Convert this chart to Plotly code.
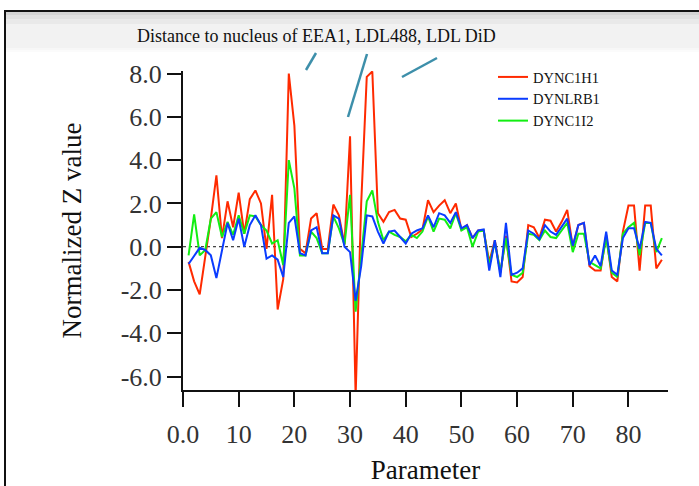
import plotly.graph_objects as go

# ---------------- data ----------------
params = list(range(1, 87))

dync1h1 = [-0.7, -1.6, -2.2, -0.5, 1.3, 3.3, 0.4, 2.1, 0.9, 2.5,
           0.6, 2.2, 2.6, 2.0, -0.1, 2.4, -2.9, -1.5, 8.0, 5.6,
           -0.1, -0.3, 1.3, 1.55, -0.1, -0.1, 1.95, 1.45, 0.1, 5.1,
           -6.9, 2.0, 7.85, 8.1, 1.55, 1.15, 1.6, 1.7, 1.3, 1.25,
           0.45, 0.6, 0.8, 2.15, 1.6, 1.9, 2.15, 1.55, 2.0, 0.8,
           1.0, 0.4, 0.75, 0.75, -0.7, 0.3, -1.2, 0.5, -1.6, -1.65,
           -1.4, 1.0, 0.9, 0.4, 1.25, 1.2, 0.7, 1.15, 1.7, 0.0,
           1.0, 1.1, -0.9, -1.1, -1.1, 0.55, -1.4, -1.6, 0.7, 1.9,
           1.9, -1.1, 1.9, 1.9, -1.0, -0.6]

dynlrb1 = [-0.8, -0.4, -0.05, -0.15, -0.4, -1.45, -0.1, 1.1, 0.3, 1.3,
           0.0, 1.0, 1.45, 1.0, -0.55, -0.4, -0.6, -1.4, 1.1, 1.4,
           -0.3, -0.4, 0.75, 0.9, -0.3, -0.3, 1.45, 1.3, 0.0, -0.25,
           -2.5, -0.9, 1.45, 1.4, 0.7, 0.15, 0.7, 0.75, 0.45, 0.15,
           0.6, 0.75, 0.85, 1.45, 0.9, 1.55, 1.45, 1.1, 1.6, 0.85,
           1.0, 0.4, 0.75, 0.8, -1.1, 0.3, -1.4, 1.1, -1.3, -1.2,
           -1.0, 0.75, 0.6, 0.35, 1.0, 0.7, 0.55, 0.9, 1.3, 0.05,
           1.0, 1.1, -0.85, -0.4, -0.9, 0.7, -1.1, -1.3, 0.4, 0.85,
           0.85, -0.1, 1.15, 1.1, -0.1, -0.4]

dync1i2 = [-0.4, 1.5, -0.4, -0.15, 1.3, 1.6, 0.45, 1.15, 0.55, 1.45,
           0.6, 1.45, 1.4, 1.0, 0.75, 0.15, 0.3, -0.85, 4.0, 2.7,
           -0.4, -0.4, 0.7, 0.4, -0.3, -0.3, 1.4, 0.85, 0.1, 2.4,
           -3.0, -0.55, 2.1, 2.6, 1.15, 0.3, 0.7, 0.55, 0.45, 0.25,
           0.55, 0.4, 0.7, 1.4, 0.7, 1.3, 1.25, 0.85, 1.55, 0.75,
           0.9, 0.0, 0.7, 0.75, -0.85, 0.2, -1.15, 0.4, -1.3, -1.4,
           -1.2, 0.6, 0.55, 0.3, 0.75, 0.45, 0.4, 0.75, 1.1, -0.25,
           0.6, 0.6, -0.7, -0.85, -1.0, 0.4, -1.2, -1.4, 0.6, 0.9,
           1.1, -0.4, 1.1, 1.1, -0.25, 0.4]

series_names = ["DYNC1H1", "DYNLRB1", "DYNC1I2"]
series_colors = ["#ff2a00", "#0a3cff", "#12ee12"]

x_tick_vals = [0, 10, 20, 30, 40, 50, 60, 70, 80]
x_tick_text = ["0.0", "10", "20", "30", "40", "50", "60", "70", "80"]
y_tick_vals = [-6, -4, -2, 0, 2, 4, 6, 8]
y_tick_text = ["-6.0", "-4.0", "-2.0", "0.0", "2.0", "4.0", "6.0", "8.0"]

header_text = "Distance to nucleus of EEA1, LDL488, LDL DiD"

# ---------------- layout geometry ----------------
W, H = 699, 486
L, R, T, B = 183, 31, 71, 96
PW = W - L - R
PH = H - T - B


def px(x):
    return (x - L) / PW


def py(y):
    return (H - B - y) / PH


SERIF = "Liberation Serif, Times New Roman, serif"

fig = go.Figure()

# draw order: red, green, blue (blue on top); legend order red, blue, green
draw = [(0, dync1h1, 1), (2, dync1i2, 3), (1, dynlrb1, 2)]
for idx, vals, rank in draw:
    fig.add_trace(go.Scatter(
        x=params, y=vals, mode="lines", name=series_names[idx],
        line=dict(color=series_colors[idx], width=2),
        legendrank=rank,
    ))

shapes = []
# outer frame (left + top border)
shapes.append(dict(type="line", xref="paper", yref="paper",
                   x0=px(5), x1=px(5), y0=py(11), y1=py(H + 5),
                   line=dict(color="#111111", width=2)))
shapes.append(dict(type="line", xref="paper", yref="paper",
                   x0=px(4), x1=px(W + 5), y0=py(11), y1=py(11),
                   line=dict(color="#111111", width=2)))
# header band with soft shading
shapes.append(dict(type="rect", xref="paper", yref="paper",
                   x0=px(6), x1=px(W + 5), y0=py(12), y1=py(48),
                   fillcolor="#f2f2f2", line=dict(width=0), layer="below"))
for y_end, op in [(24, 0.035), (19, 0.04), (15, 0.05)]:
    shapes.append(dict(type="rect", xref="paper", yref="paper",
                       x0=px(6), x1=px(W + 5), y0=py(12), y1=py(y_end),
                       fillcolor="rgba(0,0,0,%s)" % op, line=dict(width=0),
                       layer="below"))
for y_end, op in [(52, 0.015), (50, 0.015)]:
    shapes.append(dict(type="rect", xref="paper", yref="paper",
                       x0=px(6), x1=px(W + 5), y0=py(48), y1=py(y_end),
                       fillcolor="rgba(0,0,0,%s)" % op, line=dict(width=0),
                       layer="below"))
# teal pointer lines
teal = "#3d8faa"
for (xa, ya, xb, yb) in [(306, 70, 316, 53), (348, 117, 367, 54), (402, 77, 437, 58)]:
    shapes.append(dict(type="line", xref="paper", yref="paper",
                       x0=px(xa), y0=py(ya), x1=px(xb), y1=py(yb),
                       line=dict(color=teal, width=2.5)))
# dashed zero line
shapes.append(dict(type="line", xref="x", yref="y", x0=0, x1=87.1, y0=0, y1=0,
                   line=dict(color="#111111", width=1, dash="3px,3px"),
                   layer="below"))

fig.update_layout(
    width=W, height=H,
    margin=dict(l=L, r=R, t=T, b=B, autoexpand=False),
    paper_bgcolor="white", plot_bgcolor="white",
    font=dict(family=SERIF, color="#222222"),
    showlegend=True,
    legend=dict(x=px(493), y=py(61), xanchor="left", yanchor="top",
                bgcolor="rgba(0,0,0,0)", borderwidth=0,
                font=dict(family=SERIF, size=14.5, color="#111111"),
                itemwidth=30, tracegroupgap=0),
    shapes=shapes,
    annotations=[dict(text=header_text, xref="paper", yref="paper",
                      x=px(316), y=py(36), xanchor="center", yanchor="middle",
                      showarrow=False,
                      font=dict(family=SERIF, size=18, color="#111111"))],
    xaxis=dict(range=[0, 87.1], tickvals=x_tick_vals, ticktext=x_tick_text,
               showgrid=False, zeroline=False, showline=True,
               linecolor="#111111", linewidth=2,
               ticks="outside", ticklen=15, tickwidth=2, tickcolor="#111111",
               ticklabelstandoff=5,
               tickfont=dict(family=SERIF, size=26, color="#333333"),
               title=dict(text="Parameter", standoff=12,
                          font=dict(family=SERIF, size=27, color="#111111")),
               automargin=False),
    yaxis=dict(range=[-6.62, 8.12], tickvals=y_tick_vals, ticktext=y_tick_text,
               showgrid=False, zeroline=False, showline=True,
               linecolor="#111111", linewidth=2,
               ticks="outside", ticklen=14, tickwidth=2, tickcolor="#111111",
               tickfont=dict(family=SERIF, size=26, color="#333333"),
               title=dict(text="Normalized Z value", standoff=31,
                          font=dict(family=SERIF, size=27, color="#111111")),
               automargin=False),
)

fig.write_html("out.html",
               config={"displayModeBar": False},
               post_script="document.body.style.margin='0';"
                           "document.body.style.overflow='hidden';")
